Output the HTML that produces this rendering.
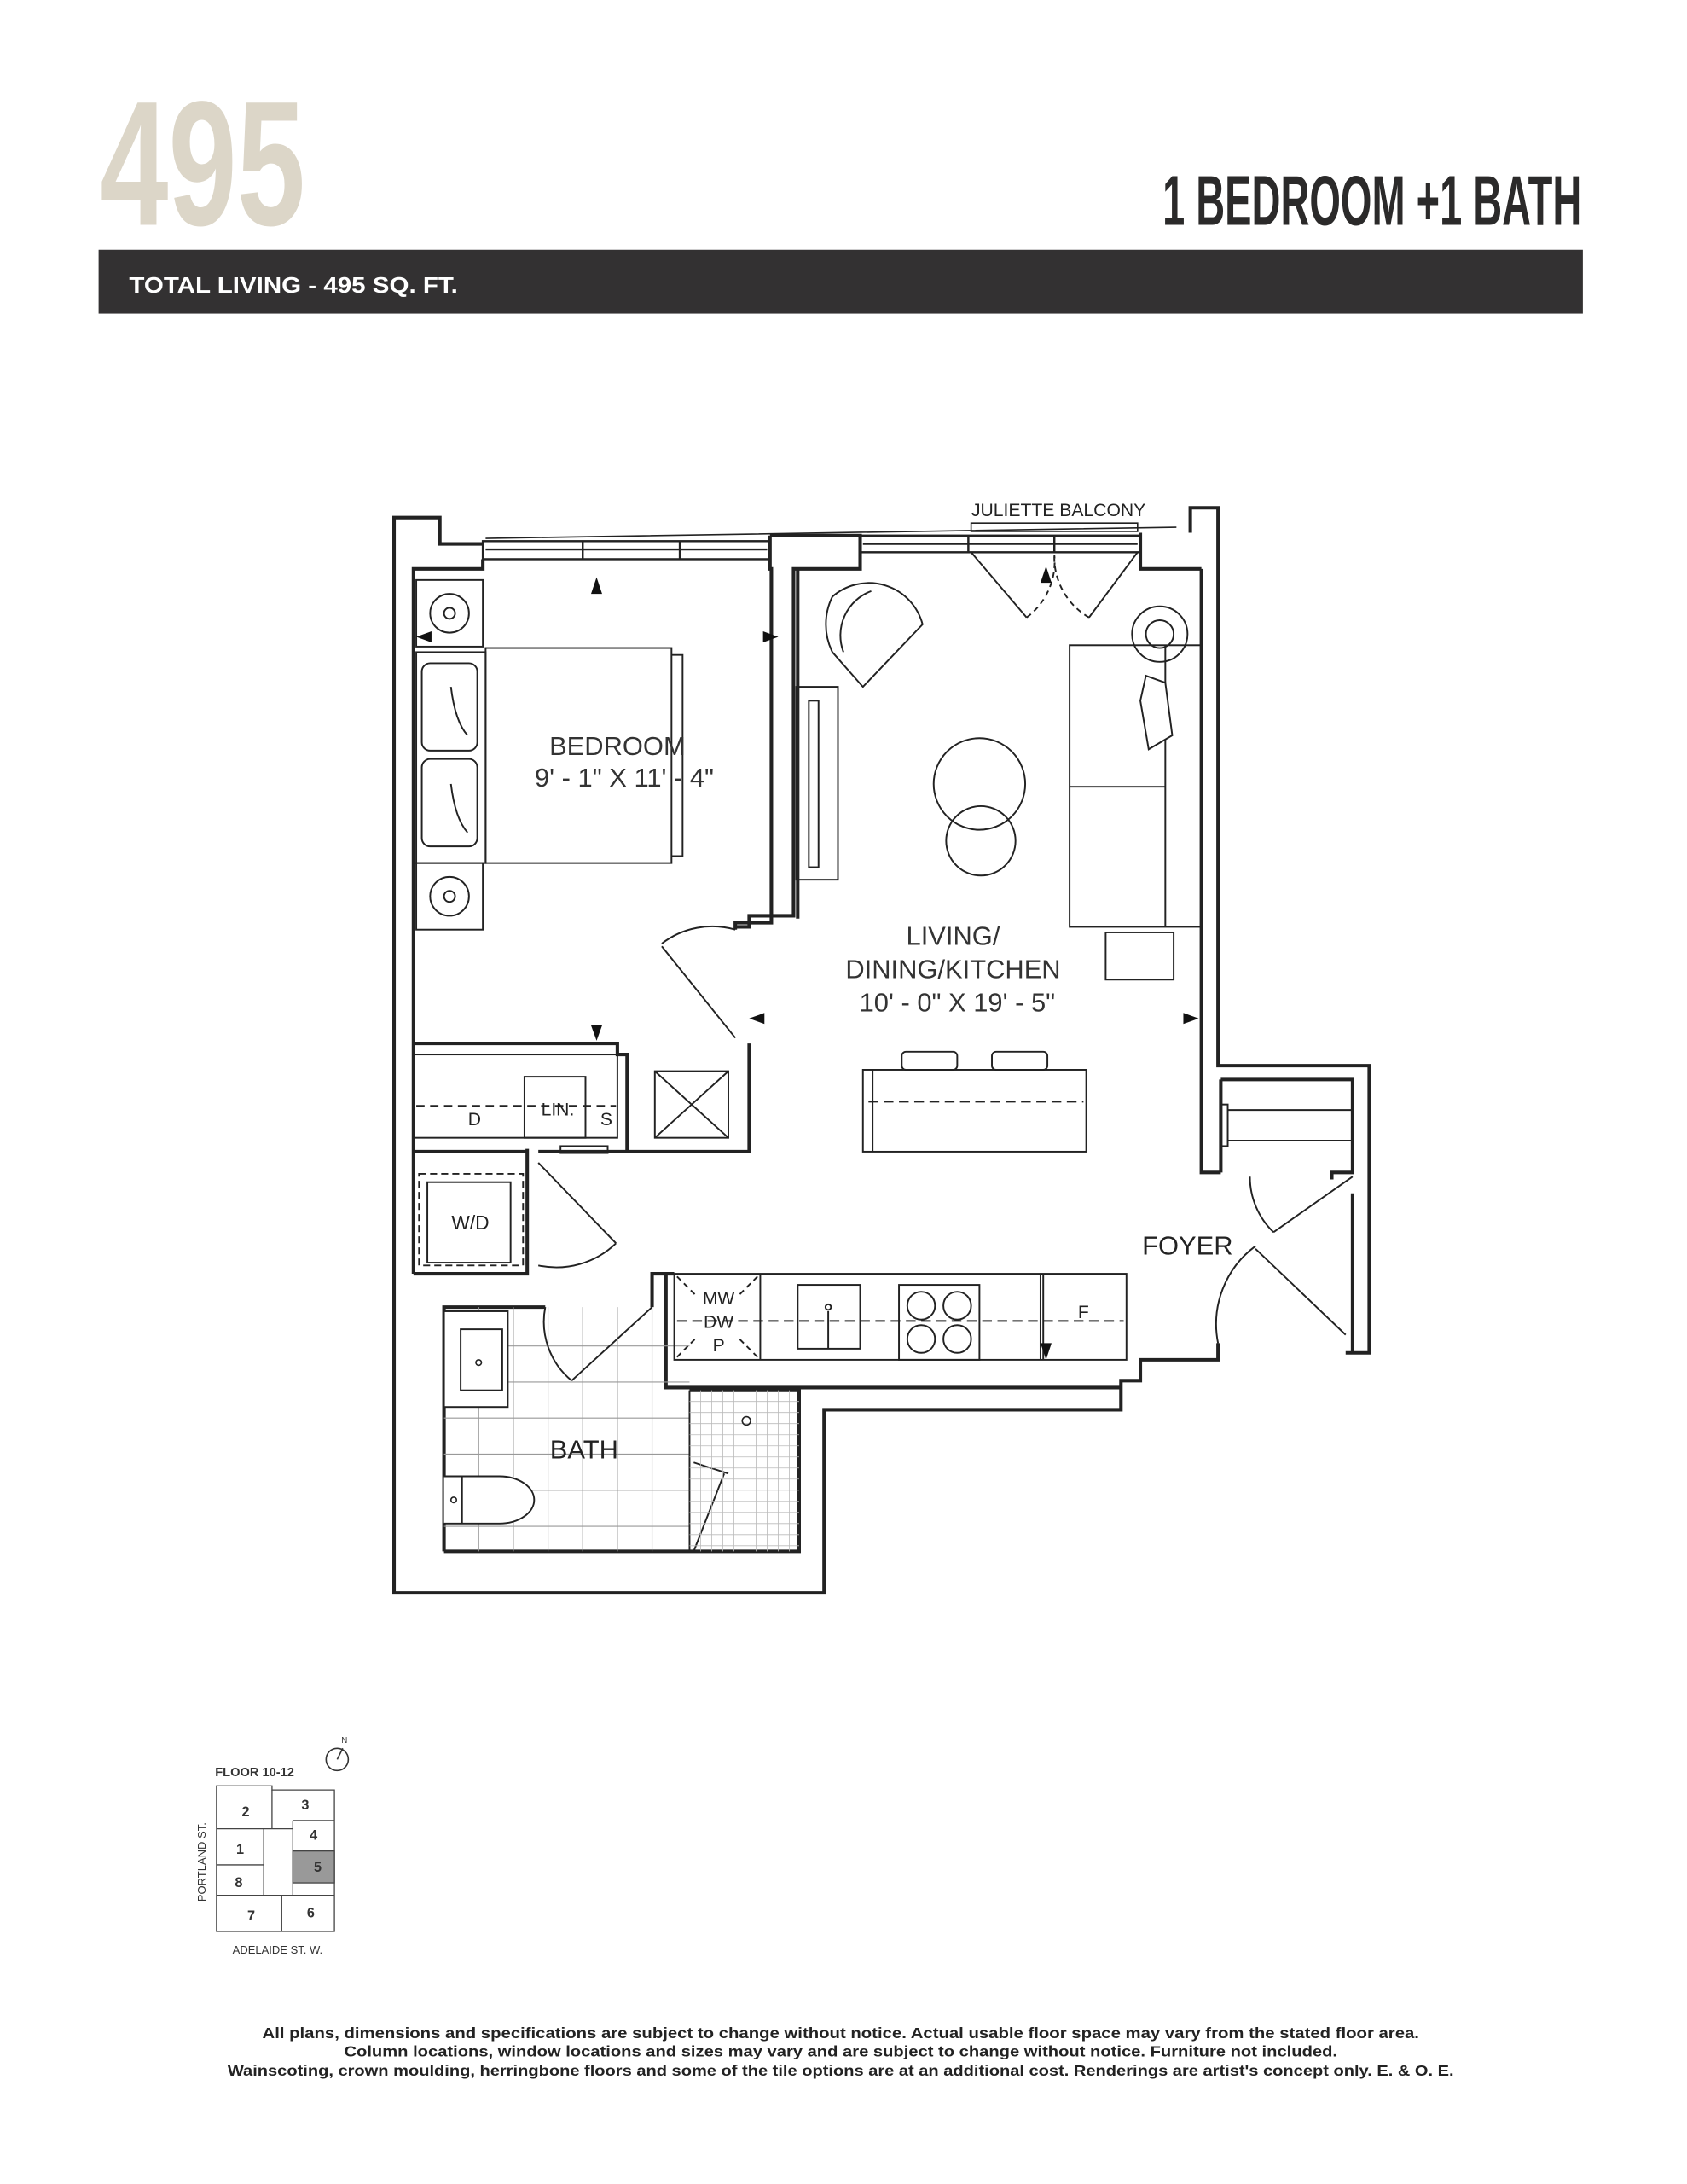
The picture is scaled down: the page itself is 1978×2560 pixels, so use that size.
<!DOCTYPE html>
<html><head><meta charset="utf-8"><style>html,body{margin:0;padding:0;background:#fff}svg{display:block}</style></head><body>
<svg xmlns="http://www.w3.org/2000/svg" width="1978" height="2560" viewBox="0 0 1216 1574" font-family="Liberation Sans, sans-serif">
<rect width="1216" height="1574" fill="#fff"/>
<text x="72" y="162" font-size="128" font-weight="bold" fill="#dcd6c8" textLength="148" lengthAdjust="spacingAndGlyphs">495</text>
<text x="838" y="162" font-size="51" font-weight="bold" fill="#2b2a2a" textLength="302" lengthAdjust="spacingAndGlyphs">1 BEDROOM +1 BATH</text>
<rect x="71" y="180" width="1070" height="46" fill="#333132"/>
<text x="93" y="211" font-size="16" font-weight="bold" fill="#fff" textLength="237" lengthAdjust="spacingAndGlyphs">TOTAL LIVING - 495 SQ. FT.</text>

<g fill="none" stroke="#222" stroke-linejoin="miter">
<path stroke-width="2.5" d="M348,392 H317 V373 H284 V1148 H594 V1016 H808 V995 H822 V980 H878 V968 M858,384 V366 H878 V768 H987 V975 H970"/>
<path stroke-width="1" d="M350,388 L848,380 M700,383 H820 V377 H700 Z"/>
<g stroke-width="1.5">
<rect x="348" y="390" width="207" height="13"/>
<path d="M350,396 H553 M420,390 V403 M490,390 V403"/>
<rect x="620" y="386" width="202" height="12"/>
<path d="M622,392 H820 M698,386 V398 M760,386 V398"/>
</g>
<g stroke-width="2.5">
<path d="M348,403 V410 H298 V918"/>
<path d="M555,386 V410 H556 V665 H530 V670"/>
<path d="M555,386 H620 V410 H572 V660 H540 V668 H530"/>
<path d="M575,410 V662"/>
<path d="M298,752 H445 V760 H452 V830 H388 M298,830 H380"/>
<path d="M540,752 V830 H452"/>
<path d="M298,918 H380 V828"/>
<path d="M320,1118 V942 H393 M470,942 V918 H486 M480,918 V1000 H808"/>
<path d="M497,1002 H576 V1118 H320"/>
<path d="M866,410 V845 H880 M822,384 V410 H866"/>
<path d="M880,778 H975 V845 H960 V850 M880,778 V845 M975,860 V975"/>
</g>
<path stroke-width="1.2" d="M477,682 L530,748 M477,680 A60,60 0 0 1 530,670"/>
<g stroke-width="1.2">
<rect x="298" y="760" width="147" height="60"/>
<rect x="378" y="776" width="44" height="44"/>
<path d="M300,797 H444" stroke-dasharray="6,4"/>
<path d="M300,752 H445"/>
<rect x="472" y="772" width="53" height="48"/>
<path d="M472,772 L525,820 M525,772 L472,820"/>
<rect x="404" y="826" width="34" height="5"/>
<rect x="302" y="846" width="75" height="66" stroke-dasharray="5,3"/>
<rect x="308" y="852" width="60" height="58"/>
<path d="M388,838 L444,896 M444,896 A62,62 0 0 1 388,912"/>
<path stroke="#999" stroke-width="0.7" d="M345,942 V1118 M370,942 V1118 M395,942 V1118 M420,942 V1118 M445,942 V1118 M470,942 V1118 M320,970 H497 M320,996 H497 M320,1022 H497 M320,1048 H497 M320,1074 H497 M320,1100 H497"/>
<path stroke-width="1.2" d="M497,1002 V1118"/>
<rect x="320" y="945" width="46" height="69" fill="#fff"/>
<rect x="332" y="958" width="30" height="44"/>
<path d="M320,1064 H333 V1098 H320 M333,1064 H360 A25,17 0 0 1 360,1098 H333" fill="#fff"/>
<path d="M470,942 L412,995 M393,942 A55,55 0 0 0 412,995"/>
<path d="M522,1062 L500,1118 M500,1054 L525,1062"/>
</g>
<g stroke="#bbb" stroke-width="0.5">
<path d="M505,1002V1118M513,1002V1118M521,1002V1118M529,1002V1118M537,1002V1118M545,1002V1118M553,1002V1118M561,1002V1118M569,1002V1118M497,1010H576M497,1018H576M497,1026H576M497,1034H576M497,1042H576M497,1050H576M497,1058H576M497,1066H576M497,1074H576M497,1082H576M497,1090H576M497,1098H576M497,1106H576M497,1114H576"/>
</g>
<circle cx="538" cy="1024" r="3" stroke-width="1"/>
<circle cx="345" cy="982" r="2" stroke-width="1"/>
<circle cx="327" cy="1081" r="2" stroke-width="1"/>
<g stroke-width="1.2">
<rect x="486" y="918" width="326" height="62"/>
<path d="M548,918 V980 M750,918 V980 M752,918 V980"/>
<path d="M488,952 H810" stroke-dasharray="7,4"/>
<path d="M488,920 L502,934 M546,920 L532,934 M488,978 L502,964 M546,978 L532,964" stroke-dasharray="4,3"/>
<rect x="575" y="926" width="45" height="46"/>
<circle cx="597" cy="942" r="2"/><path d="M597,945 V972"/>
<rect x="648" y="926" width="58" height="54"/>
<circle cx="664" cy="941" r="10"/><circle cx="690" cy="941" r="10"/>
<circle cx="664" cy="965" r="10"/><circle cx="690" cy="965" r="10"/>
</g>
<g stroke-width="1.2">
<rect x="880" y="796" width="5" height="30"/>
<path d="M885,800 H975 M885,822 H975"/>
<path d="M975,848 L918,888 M901,848 A55,55 0 0 0 918,888"/>
<path d="M905,900 L970,962 M905,898 A70,70 0 0 0 878,968"/>
</g>
<g stroke-width="1.2">
<path d="M700,398 L740,445 M820,398 L785,445"/>
<path d="M740,445 A50,50 0 0 0 760,400 M785,445 A50,50 0 0 1 760,400" stroke-dasharray="4,3"/>
</g>
<g stroke-width="1.2">
<rect x="300" y="418" width="48" height="48"/><circle cx="324" cy="442" r="14"/><circle cx="324" cy="442" r="4"/>
<rect x="300" y="622" width="48" height="48"/><circle cx="324" cy="646" r="14"/><circle cx="324" cy="646" r="4"/>
<rect x="300" y="470" width="50" height="152"/>
<rect x="304" y="478" width="40" height="63" rx="6"/>
<rect x="304" y="547" width="40" height="63" rx="6"/>
<path d="M325,495 Q328,520 337,530 M325,565 Q328,590 337,600"/>
<rect x="350" y="467" width="134" height="155"/>
<path d="M484,472 H492 V617 H484"/>
<path d="M622,495 L665,450 A40,40 0 0 0 600,430 A45,45 0 0 0 600,470 Z"/>
<path d="M608,470 A34,34 0 0 1 628,426"/>
<rect x="574" y="495" width="30" height="139"/>
<rect x="583" y="505" width="7" height="120"/>
<circle cx="706" cy="565" r="33"/>
<circle cx="707" cy="606" r="25"/>
<rect x="771" y="465" width="95" height="203"/>
<path d="M840,465 V668 M771,567 H840"/>
<circle cx="836" cy="457" r="20"/><circle cx="836" cy="457" r="10"/>
<path d="M826,487 L840,492 L845,530 L828,540 L822,505 Z" fill="#fff"/>
<rect x="797" y="672" width="49" height="34"/>
<rect x="622" y="771" width="161" height="59"/>
<path d="M626,794 H781" stroke-dasharray="7,4"/>
<path d="M629,771 V830"/>
<rect x="650" y="758" width="40" height="13" rx="3"/>
<rect x="715" y="758" width="40" height="13" rx="3"/>
</g>
</g>
<g fill="#111">
<path d="M430,416 L426,428 H434 Z"/>
<path d="M300,459 L311,455 V463 Z"/>
<path d="M561,459 L550,455 V463 Z"/>
<path d="M430,750 L426,739 H434 Z"/>
<path d="M540,734 L551,730 V738 Z"/>
<path d="M864,734 L853,730 V738 Z"/>
<path d="M754,408 L750,420 H758 Z"/>
<path d="M754,980 L750,968 H758 Z"/>
</g>
<g fill="#222" text-anchor="middle" font-size="19">
<text x="445" y="544" fill="#333">BEDROOM</text>
<text x="450" y="567" fill="#333">9' - 1" X 11' - 4"</text>
<text x="687" y="681" fill="#333">LIVING/</text>
<text x="687" y="705" fill="#333">DINING/KITCHEN</text>
<text x="690" y="729" fill="#333">10' - 0" X 19' - 5"</text>
<text x="856" y="904">FOYER</text>
<text x="421" y="1051">BATH</text>
<text x="763" y="372" font-size="13">JULIETTE BALCONY</text>
<text x="339" y="886" font-size="14">W/D</text>
<text x="342" y="811" font-size="13">D</text>
<text x="402" y="804" font-size="13">LIN.</text>
<text x="437" y="811" font-size="13">S</text>
<text x="518" y="940" font-size="13">MW</text>
<text x="518" y="957" font-size="13">DW</text>
<text x="518" y="974" font-size="13">P</text>
<text x="781" y="950" font-size="13">F</text>
</g>
<g font-size="9" fill="#333">
<text x="155" y="1280" font-weight="bold">FLOOR 10-12</text>
<circle cx="243" cy="1268" r="8" fill="none" stroke="#333" stroke-width="1"/>
<path d="M243,1268 L247,1260" stroke="#333"/>
<text x="246" y="1256" font-size="6">N</text>
<g fill="none" stroke="#444" stroke-width="0.8">
<path d="M156,1287 H196 V1290 H241 V1392 H156 Z"/>
<path d="M156,1318 H196 M196,1290 V1318 M156,1344 H190 M190,1318 V1366 M156,1366 H203 M203,1366 V1392 M203,1366 H241 M211,1312 H241 M211,1312 V1366 M196,1318 H211"/>
</g>
<rect x="211" y="1334" width="30" height="23" fill="#999" stroke="#444" stroke-width="0.8"/>
<g text-anchor="middle" font-weight="bold" font-size="10">
<text x="177" y="1309">2</text><text x="220" y="1304">3</text><text x="173" y="1336">1</text><text x="226" y="1326">4</text>
<text x="229" y="1349">5</text><text x="172" y="1360">8</text><text x="181" y="1384">7</text><text x="224" y="1382">6</text>
</g>
<text x="0" y="0" font-size="8" text-anchor="middle" transform="translate(148,1342) rotate(-90)">PORTLAND ST.</text>
<text x="200" y="1408" font-size="8" text-anchor="middle">ADELAIDE ST. W.</text>
</g>
<g font-size="11" fill="#222" text-anchor="middle" font-weight="bold">
<text x="606" y="1469" textLength="834" lengthAdjust="spacingAndGlyphs">All plans, dimensions and specifications are subject to change without notice. Actual usable floor space may vary from the stated floor area.</text>
<text x="606" y="1482" textLength="716" lengthAdjust="spacingAndGlyphs">Column locations, window locations and sizes may vary and are subject to change without notice. Furniture not included.</text>
<text x="606" y="1496" textLength="884" lengthAdjust="spacingAndGlyphs">Wainscoting, crown moulding, herringbone floors and some of the tile options are at an additional cost. Renderings are artist's concept only. E. &amp; O. E.</text>
</g>
</svg>
</body></html>
